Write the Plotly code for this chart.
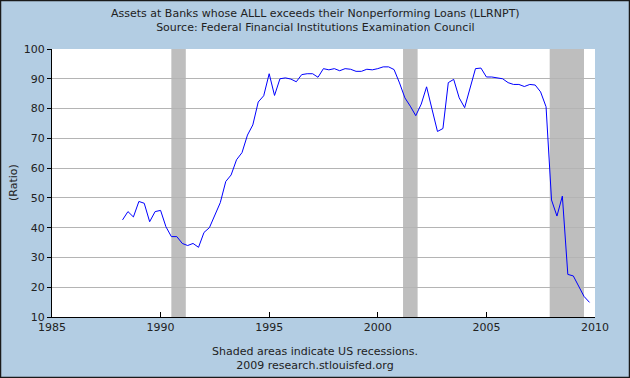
import pandas as pd
import plotly.graph_objects as go

# Quarterly observations, first quarter 1988-04-01
start_date = "1988-04-01"
ratio = [
    42.6, 45.4, 43.6, 48.8, 48.2, 42.0, 45.4, 45.8, 40.3, 37.0,
    37.0, 34.7, 34.0, 34.7, 33.4, 38.4, 40.0, 44.2, 48.4, 55.5,
    57.7, 62.8, 65.2, 71.1, 74.5, 82.2, 84.3, 91.7, 84.4, 90.0,
    90.3, 89.9, 89.0, 91.4, 91.7, 91.7, 90.5, 93.4, 93.0, 93.4,
    92.7, 93.4, 93.2, 92.5, 92.5, 93.2, 93.0, 93.4, 94.0, 94.0,
    93.1, 88.6, 83.6, 80.8, 77.6, 81.5, 87.3, 79.8, 72.3, 73.3,
    88.7, 89.8, 83.6, 80.3, 86.7, 93.4, 93.6, 90.6, 90.6, 90.3,
    90.0, 88.7, 88.1, 88.1, 87.4, 88.1, 87.9, 85.6, 80.6, 49.3,
    43.9, 50.6, 24.3, 23.8, 20.1, 16.9, 14.9,
]
dates = pd.date_range(start_date, periods=len(ratio), freq="QS")

recession_starts = ["1990-07-01", "2001-03-01", "2007-12-01"]
recession_ends = ["1991-03-01", "2001-11-01", "2009-06-30"]

x_ticks = ["1985-01-01", "1990-01-01", "1995-01-01", "2000-01-01", "2005-01-01", "2010-01-01"]
x_tick_labels = ["1985", "1990", "1995", "2000", "2005", "2010"]
y_ticks = [10, 20, 30, 40, 50, 60, 70, 80, 90, 100]

BG = "#B3CDE3"
FONT = "DejaVu Sans"
TXT = "#222222"

fig = go.Figure()
fig.add_trace(go.Scatter(x=dates, y=ratio, mode="lines",
                         line=dict(color="#0000FF", width=1), showlegend=False,
                         hoverinfo="skip"))

shapes = []
for s, e in zip(recession_starts, recession_ends):
    shapes.append(dict(type="rect", xref="x", yref="paper", x0=s, x1=e, y0=0, y1=1,
                       fillcolor="#BEBEBE", line=dict(width=0), layer="below"))
# outer border of the image
shapes.append(dict(type="rect", xref="paper", yref="paper", x0=-51.5/543, x1=1+34.5/543,
                   y0=-60.5/268, y1=1+48.5/268, line=dict(color="#1a1a1a", width=1.5),
                   fillcolor="rgba(0,0,0,0)"))

fig.update_layout(
    width=630, height=378,
    margin=dict(l=52, r=35, t=49, b=61),
    paper_bgcolor=BG, plot_bgcolor="white",
    font=dict(family=FONT, size=11, color=TXT),
    shapes=shapes,
    annotations=[
        dict(text="Assets at Banks whose ALLL exceeds their Nonperforming Loans (LLRNPT)<br>"
                  "Source: Federal Financial Institutions Examination Council",
             xref="paper", yref="paper", x=(315-52)/543, y=1+(49-5)/268,
             xanchor="center", yanchor="top", showarrow=False,
             font=dict(family=FONT, size=11, color=TXT)),
        dict(text="Shaded areas indicate US recessions.<br>2009 research.stlouisfed.org",
             xref="paper", yref="paper", x=(315-52)/543, y=-(343-317)/268,
             xanchor="center", yanchor="top", showarrow=False,
             font=dict(family=FONT, size=11, color=TXT)),
        dict(text="(Ratio)", xref="paper", yref="paper", x=-(52-13)/543, y=0.5,
             textangle=-90, xanchor="center", yanchor="middle", showarrow=False,
             font=dict(family=FONT, size=11, color=TXT)),
    ],
    xaxis=dict(type="date", range=["1985-01-01", "2010-01-01"],
               tickvals=x_ticks, ticktext=x_tick_labels,
               showgrid=False, showline=True, linecolor="black", linewidth=1,
               ticks="inside", ticklen=5, tickcolor="black", zeroline=False,
               tickfont=dict(family=FONT, size=11, color=TXT)),
    yaxis=dict(range=[10, 100], tickvals=y_ticks, showgrid=True, gridcolor="#B4B4B4",
               gridwidth=1, showline=True, linecolor="black", linewidth=1,
               ticks="outside", ticklen=4, tickcolor="black", zeroline=False,
               tickfont=dict(family=FONT, size=11, color=TXT)),
)

fig.write_html("out.html", config={"displayModeBar": False},
               post_script="document.body.style.margin='0';")
